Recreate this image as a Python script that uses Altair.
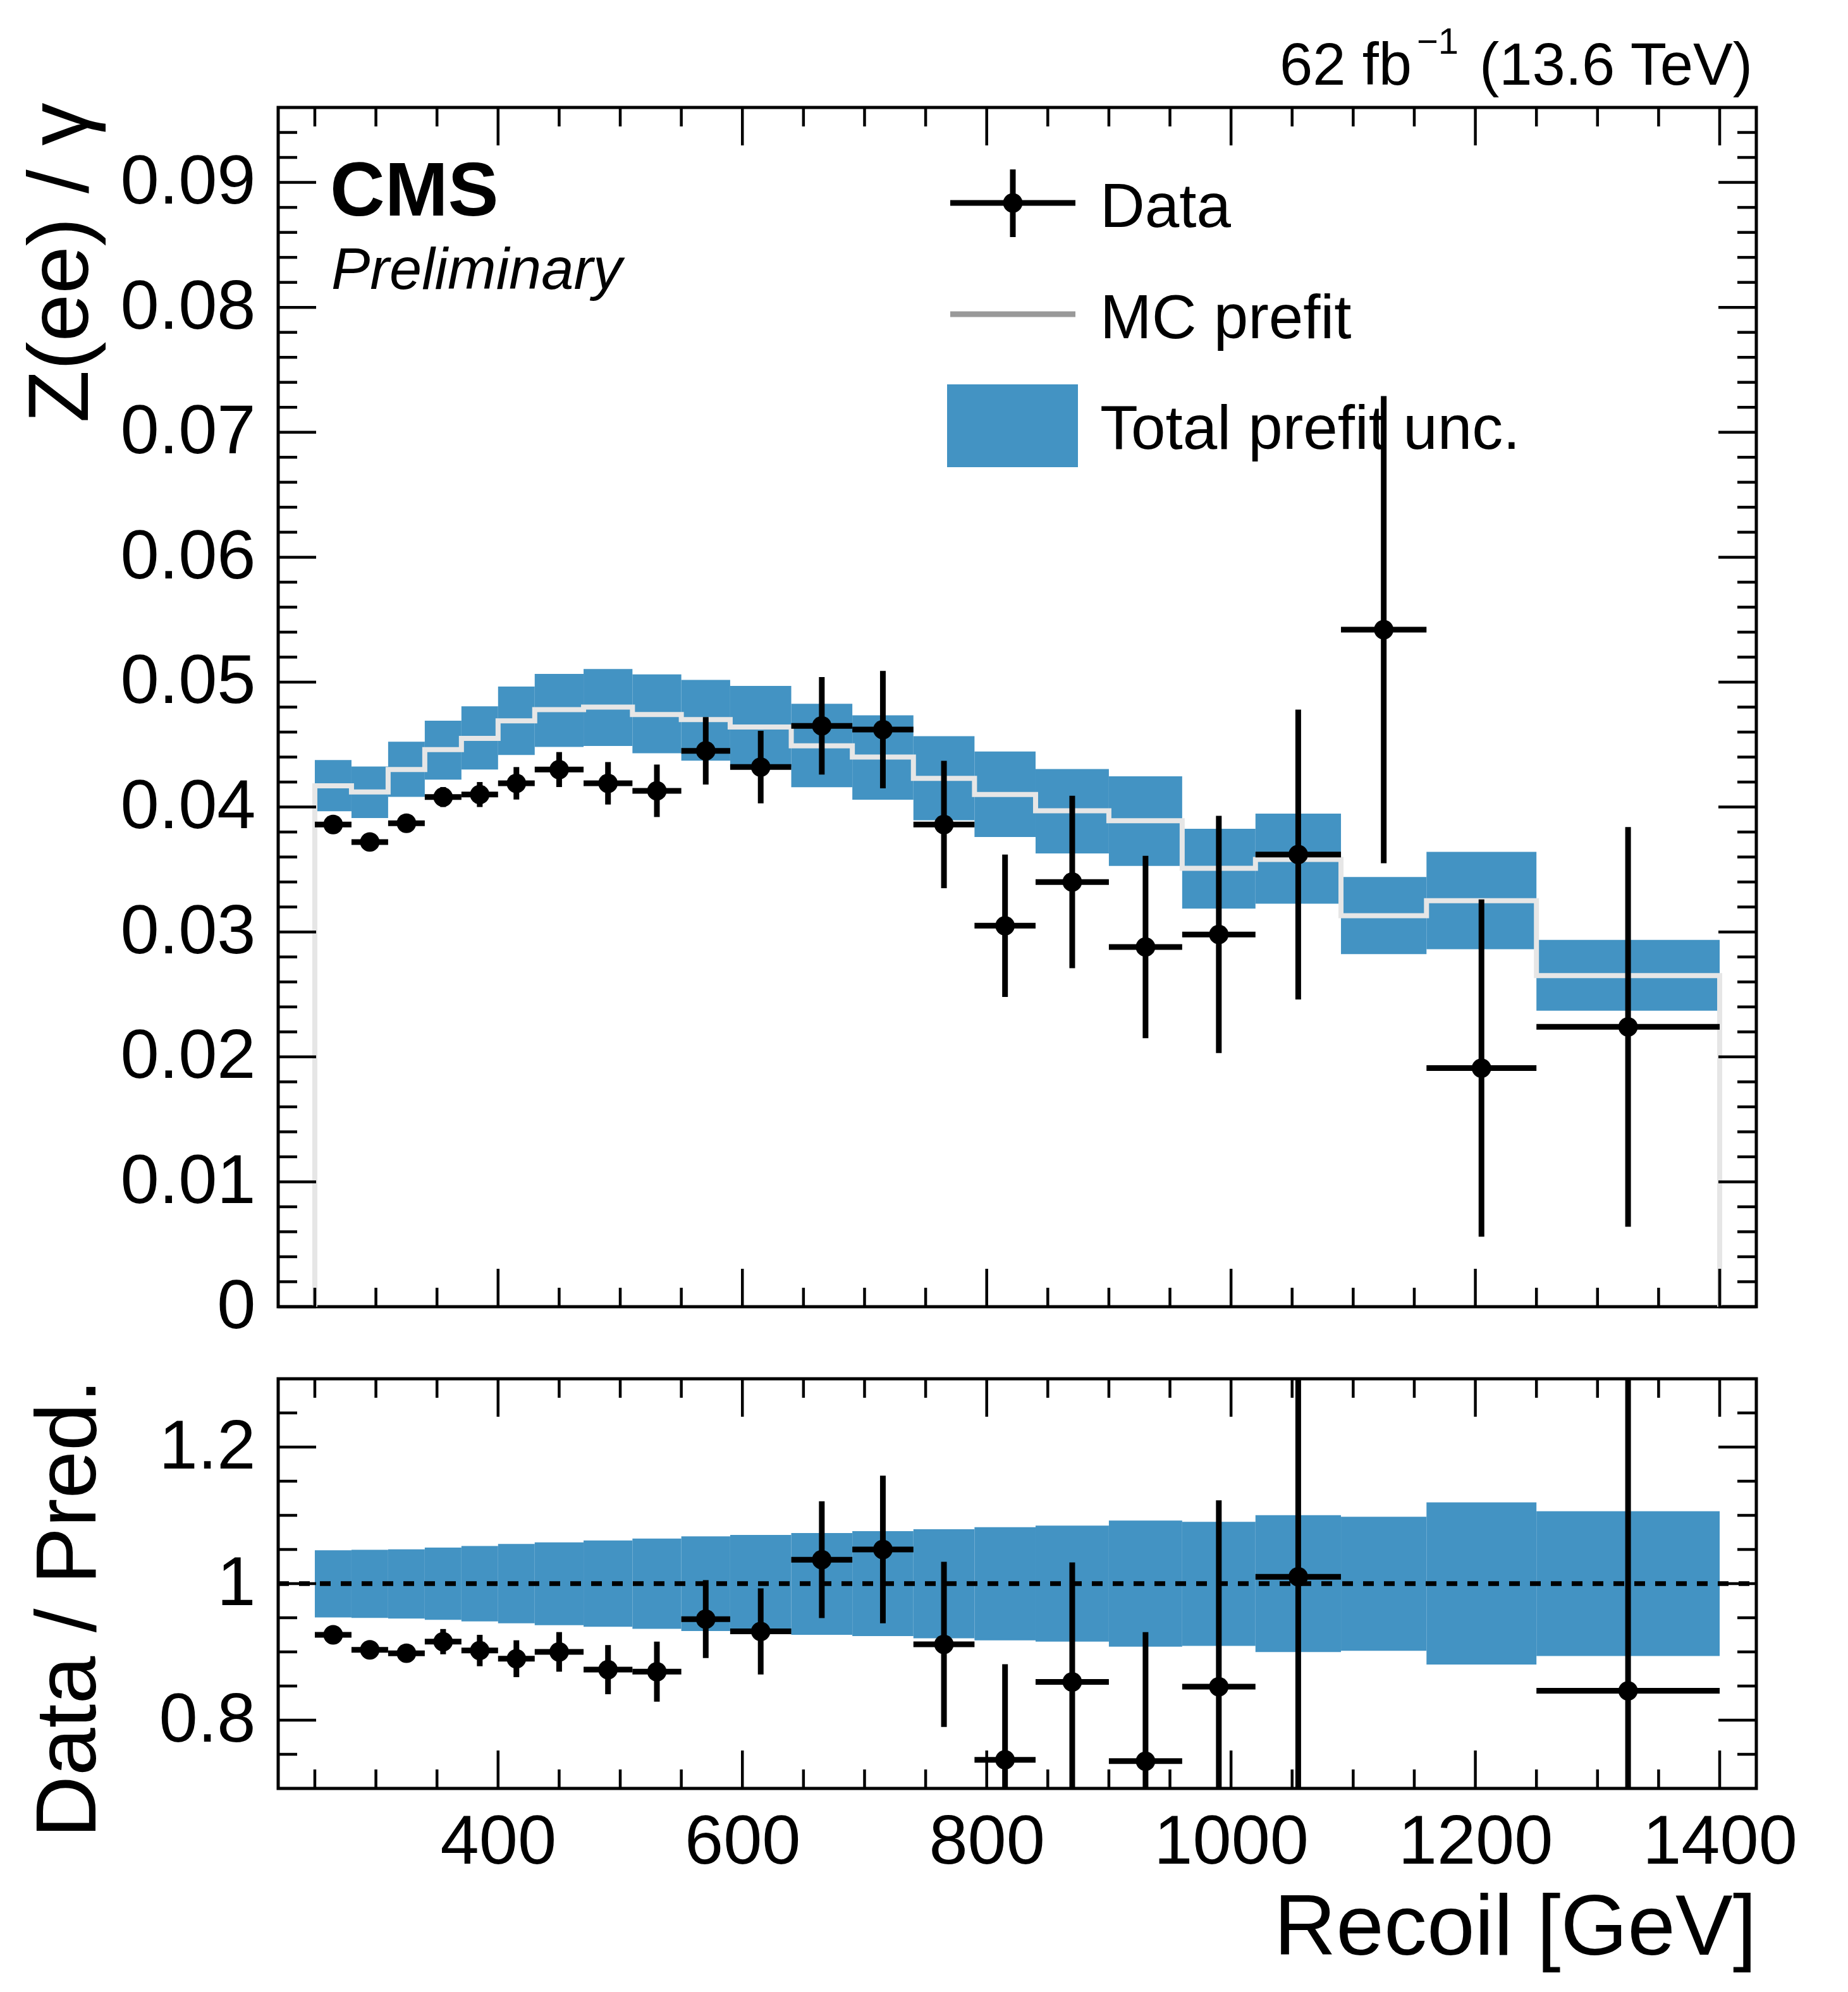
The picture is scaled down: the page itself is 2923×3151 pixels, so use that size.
import altair as alt
import pandas as pd

FONT = "Liberation Sans"
BLUE = "#4393c3"

# ---------------- data ----------------
edges = [250, 280, 310, 340, 370, 400, 430, 470, 510, 550, 590, 640, 690,
         740, 790, 840, 900, 960, 1020, 1090, 1160, 1250, 1400]

data_val = [0.0386, 0.0372, 0.0387, 0.0408, 0.0410, 0.0419, 0.0430, 0.0419,
            0.0413, 0.0445, 0.0432, 0.0465, 0.0462, 0.0386, 0.0305, 0.0340,
            0.0288, 0.0298, 0.0362, 0.0542, 0.0191, 0.0224]
data_err = [0.0005, 0.0005, 0.0006, 0.0008, 0.0010, 0.0013, 0.0014, 0.0017,
            0.0021, 0.0027, 0.0029, 0.0039, 0.0047, 0.0051, 0.0057, 0.0069,
            0.0073, 0.0095, 0.0116, 0.0187, 0.0135, 0.0160]

mc_val = [0.0417, 0.0412, 0.0430, 0.0446, 0.0455, 0.0469, 0.0478, 0.0480,
          0.0474, 0.0470, 0.0464, 0.0449, 0.0440, 0.0423, 0.0410, 0.0397,
          0.0389, 0.0351, 0.0358, 0.0313, 0.0325, 0.0265]
band_lo = [0.03966, 0.03912, 0.04081, 0.04219, 0.04300, 0.04417, 0.04481,
           0.04489, 0.04430, 0.04371, 0.04320, 0.04159, 0.04058, 0.03894,
           0.03760, 0.03628, 0.03528, 0.03187, 0.03226, 0.02823, 0.02862,
           0.02370]
band_hi = [0.04376, 0.04324, 0.04523, 0.04691, 0.04806, 0.04965, 0.05066,
           0.05105, 0.05062, 0.05017, 0.04970, 0.04826, 0.04734, 0.04567,
           0.04444, 0.04304, 0.04246, 0.03826, 0.03947, 0.03440, 0.03641,
           0.02936]

ratio_val = [0.925, 0.903, 0.898, 0.915, 0.902, 0.890, 0.900, 0.874, 0.871,
             0.948, 0.930, 1.035, 1.050, 0.911, 0.742, 0.856, 0.740, 0.849,
             1.010, None, None, 0.843]
ratio_err = [0.011, 0.012, 0.013, 0.0185, 0.023, 0.027, 0.029, 0.036, 0.044,
             0.057, 0.063, 0.0855, 0.108, 0.121, 0.140, 0.175, 0.189, 0.273,
             0.32, None, None, 0.60]
ratio_lo = [0.9504, 0.9497, 0.9489, 0.9469, 0.9446, 0.9419, 0.9391, 0.9368,
            0.9337, 0.9305, 0.9259, 0.9251, 0.9231, 0.9198, 0.9170, 0.9150,
            0.9076, 0.9088, 0.8998, 0.9017, 0.8814, 0.8939]
ratio_hi = [1.0488, 1.0496, 1.0503, 1.0527, 1.0550, 1.0581, 1.0605, 1.0632,
            1.0660, 1.0691, 1.0714, 1.0741, 1.0769, 1.0797, 1.0826, 1.0850,
            1.0924, 1.0904, 1.1002, 1.0979, 1.1190, 1.1061]

# tick values
x_major = [400, 600, 800, 1000, 1200, 1400]
x_minor = [250, 300, 350, 450, 500, 550, 650, 700, 750, 850, 900, 950,
           1050, 1100, 1150, 1250, 1300, 1350]
y_major = [0.0, 0.01, 0.02, 0.03, 0.04, 0.05, 0.06, 0.07, 0.08, 0.09]
y_minor = [0.002, 0.004, 0.006, 0.008, 0.012, 0.014, 0.016, 0.018,
           0.022, 0.024, 0.026, 0.028, 0.032, 0.034, 0.036, 0.038,
           0.042, 0.044, 0.046, 0.048, 0.052, 0.054, 0.056, 0.058,
           0.062, 0.064, 0.066, 0.068, 0.072, 0.074, 0.076, 0.078,
           0.082, 0.084, 0.086, 0.088, 0.092, 0.094]
r_major = [0.8, 1.0, 1.2]
r_minor = [0.75, 0.85, 0.9, 0.95, 1.05, 1.1, 1.15, 1.25]

# ---------------- layout ----------------
W = 2338
H1 = 1897
H2 = 648
MAJ = 60
MIN = 30
TW = 4.5
EW = 9
MSIZE = 950
LAB = 110
TIT = 136

lo_e = edges[:-1]
hi_e = edges[1:]
centers = [(a + b) / 2 for a, b in zip(lo_e, hi_e)]

xs = alt.Scale(domain=[220, 1430], nice=False, zero=False)
ys_top = alt.Scale(domain=[0, 0.096], nice=False, zero=False)
ys_bot = alt.Scale(domain=[0.7, 1.3], nice=False, zero=False)

common = dict(ticks=False, tickSize=0, domain=False, grid=False, labelFlush=False,
              labelOverlap=False, labelFont=FONT, labelFontSize=LAB, labelColor="black",
              labelLimit=0, titleLimit=0,
              titleFont=FONT, titleFontSize=TIT, titleColor="black",
              titleFontWeight="normal")

yax_top = alt.Axis(values=y_major, format=".2~f", labelPadding=36,
                   title="Z(ee) / γ", titleX=-302, titleY=-8,
                   titleAlign="right", titleAngle=270, titleBaseline="alphabetic",
                   **common)
yax_bot = alt.Axis(values=r_major, format=".1~f", labelPadding=36,
                   title="Data / Pred.", titleX=-290, titleY=0,
                   titleAlign="right", titleAngle=270, titleBaseline="alphabetic",
                   **common)
xax_bot = alt.Axis(values=x_major, format="d", labelPadding=118,
                   labelBaseline="alphabetic",
                   title="Recoil [GeV]", titleX=W, titleY=262, titleAlign="right",
                   titleAngle=0, titleBaseline="alphabetic", **common)

one = pd.DataFrame({"k": [0]})


def txt(text, x, y, size, weight="normal", style="normal", align="left"):
    return alt.Chart(one).mark_text(
        text=text, font=FONT, fontSize=size, fontWeight=weight, fontStyle=style,
        align=align, baseline="alphabetic", color="black"
    ).encode(x=alt.value(x), y=alt.value(y))


def x_ticks(vals, length, height, xaxis):
    df = pd.DataFrame({"t": vals})
    bot = alt.Chart(df).mark_rule(color="black", strokeWidth=TW).encode(
        x=alt.X("t:Q", scale=xs, axis=xaxis),
        y=alt.value(height), y2=alt.value(height - length))
    top = alt.Chart(df).mark_rule(color="black", strokeWidth=TW).encode(
        x=alt.X("t:Q", scale=xs, axis=xaxis),
        y=alt.value(0), y2=alt.value(length))
    return [bot, top]


def y_ticks(vals, length, yscale, yaxis):
    df = pd.DataFrame({"t": vals})
    left = alt.Chart(df).mark_rule(color="black", strokeWidth=TW).encode(
        y=alt.Y("t:Q", scale=yscale, axis=yaxis),
        x=alt.value(0), x2=alt.value(length))
    right = alt.Chart(df).mark_rule(color="black", strokeWidth=TW).encode(
        y=alt.Y("t:Q", scale=yscale, axis=yaxis),
        x=alt.value(W), x2=alt.value(W - length))
    return [left, right]


# ---------------- top panel ----------------
band_df = pd.DataFrame({"lo": lo_e, "hi": hi_e, "blo": band_lo, "bhi": band_hi})
band = alt.Chart(band_df).mark_rect(color=BLUE).encode(
    x=alt.X("lo:Q", scale=xs, axis=None), x2="hi:Q",
    y=alt.Y("blo:Q", scale=ys_top, axis=yax_top), y2="bhi:Q")

step_x = [edges[0]] + lo_e + [edges[-1], edges[-1]]
step_y = [0.0] + mc_val + [mc_val[-1], 0.0]
line_df = pd.DataFrame({"x": step_x, "y": step_y, "i": list(range(len(step_x)))})
mc_line = alt.Chart(line_df).mark_line(
    color="#e6e6e6", strokeWidth=8, interpolate="step-after", strokeCap="butt"
).encode(x=alt.X("x:Q", scale=xs, axis=None),
         y=alt.Y("y:Q", scale=ys_top, axis=yax_top),
         order=alt.Order("i:Q"))

d_df = pd.DataFrame({"c": centers, "lo": lo_e, "hi": hi_e, "v": data_val,
                     "vlo": [v - e for v, e in zip(data_val, data_err)],
                     "vhi": [v + e for v, e in zip(data_val, data_err)]})
d_xerr = alt.Chart(d_df).mark_rule(color="black", strokeWidth=EW).encode(
    x=alt.X("lo:Q", scale=xs, axis=None), x2="hi:Q",
    y=alt.Y("v:Q", scale=ys_top, axis=yax_top))
d_yerr = alt.Chart(d_df).mark_rule(color="black", strokeWidth=EW).encode(
    x=alt.X("c:Q", scale=xs, axis=None),
    y=alt.Y("vlo:Q", scale=ys_top, axis=yax_top), y2="vhi:Q")
d_pts = alt.Chart(d_df).mark_circle(color="black", size=MSIZE, opacity=1).encode(
    x=alt.X("c:Q", scale=xs, axis=None),
    y=alt.Y("v:Q", scale=ys_top, axis=yax_top))

top_ticks = (x_ticks(x_major, MAJ, H1, None) + x_ticks(x_minor, MIN, H1, None)
             + y_ticks(y_major, MAJ, ys_top, yax_top) + y_ticks(y_minor, MIN, ys_top, yax_top))

# legend (drawn by hand)
leg = [
    alt.Chart(one).mark_rule(color="black", strokeWidth=EW).encode(
        x=alt.value(1063), x2=alt.value(1261), y=alt.value(151)),
    alt.Chart(one).mark_rule(color="black", strokeWidth=EW).encode(
        x=alt.value(1162), y=alt.value(98), y2=alt.value(205)),
    alt.Chart(one).mark_circle(color="black", size=MSIZE, opacity=1).encode(
        x=alt.value(1162), y=alt.value(151)),
    alt.Chart(one).mark_rule(color="#999999", strokeWidth=9).encode(
        x=alt.value(1063), x2=alt.value(1261), y=alt.value(327)),
    alt.Chart(one).mark_rect(color=BLUE).encode(
        x=alt.value(1058), x2=alt.value(1265), y=alt.value(438), y2=alt.value(569)),
    txt("Data", 1300, 189, 98),
    txt("MC prefit", 1300, 365, 98),
    txt("Total prefit unc.", 1300, 540, 98),
]

labels = [
    txt("CMS", 82, 171, 120, weight="bold"),
    txt("Preliminary", 84, 287, 92, style="italic"),
    txt("62 fb", 1584, -36, 94),
    txt("\u22121", 1801, -85, 58),
    txt("(13.6 TeV)", 1900, -36, 94),
]

top = alt.layer(band, mc_line, d_xerr, d_yerr, d_pts, *top_ticks, *leg, *labels
                ).properties(width=W, height=H1)

# ---------------- ratio panel ----------------
rb_df = pd.DataFrame({"lo": lo_e, "hi": hi_e, "rlo": ratio_lo, "rhi": ratio_hi})
r_band = alt.Chart(rb_df).mark_rect(color=BLUE).encode(
    x=alt.X("lo:Q", scale=xs, axis=xax_bot), x2="hi:Q",
    y=alt.Y("rlo:Q", scale=ys_bot, axis=yax_bot), y2="rhi:Q")

unity = alt.Chart(pd.DataFrame({"u": [1.0]})).mark_rule(
    color="black", strokeWidth=7.5, strokeDash=[17, 16]).encode(
    y=alt.Y("u:Q", scale=ys_bot, axis=yax_bot), x=alt.value(0), x2=alt.value(W))

r_rows = [(c, a, b, v, e) for c, a, b, v, e in zip(centers, lo_e, hi_e, ratio_val, ratio_err)
          if v is not None]
r_df = pd.DataFrame({"c": [r[0] for r in r_rows], "lo": [r[1] for r in r_rows],
                     "hi": [r[2] for r in r_rows], "v": [r[3] for r in r_rows],
                     "vlo": [r[3] - r[4] for r in r_rows],
                     "vhi": [r[3] + r[4] for r in r_rows]})
r_xerr = alt.Chart(r_df).mark_rule(color="black", strokeWidth=EW, clip=True).encode(
    x=alt.X("lo:Q", scale=xs, axis=xax_bot), x2="hi:Q",
    y=alt.Y("v:Q", scale=ys_bot, axis=yax_bot))
r_yerr = alt.Chart(r_df).mark_rule(color="black", strokeWidth=EW, clip=True).encode(
    x=alt.X("c:Q", scale=xs, axis=xax_bot),
    y=alt.Y("vlo:Q", scale=ys_bot, axis=yax_bot), y2="vhi:Q")
r_pts = alt.Chart(r_df).mark_circle(color="black", size=MSIZE, opacity=1, clip=True).encode(
    x=alt.X("c:Q", scale=xs, axis=xax_bot),
    y=alt.Y("v:Q", scale=ys_bot, axis=yax_bot))

bot_ticks = (x_ticks(x_major, MAJ, H2, xax_bot) + x_ticks(x_minor, MIN, H2, xax_bot)
             + y_ticks(r_major, MAJ, ys_bot, yax_bot) + y_ticks(r_minor, MIN, ys_bot, yax_bot))

bottom = alt.layer(r_band, unity, r_xerr, r_yerr, r_pts, *bot_ticks
                   ).properties(width=W, height=H2)

chart = alt.vconcat(top, bottom, spacing=51).properties(
    padding={"left": 18, "top": 28, "right": 20, "bottom": 10},
    background="white",
).configure_view(stroke="black", strokeWidth=5)

chart.save("out.html", embed_options={"renderer": "svg", "actions": False})
